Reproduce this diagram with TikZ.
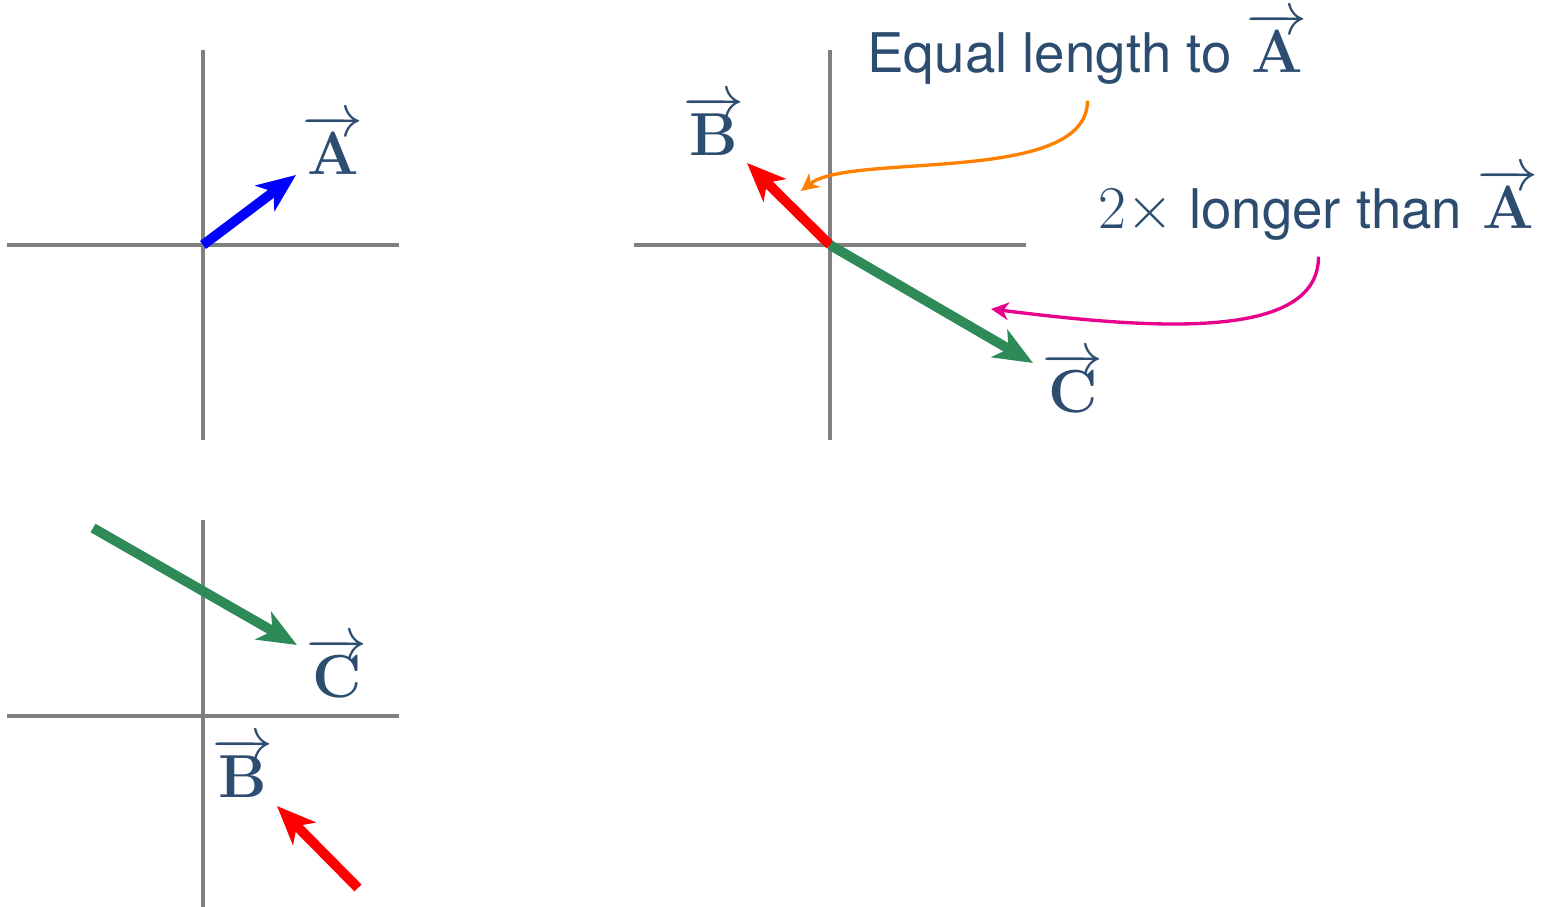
\documentclass[tikz,border=0pt]{standalone}
\usepackage[no-math]{fontspec}
\setmainfont[Scale=0.972]{TeX Gyre Heros}
\usepackage{tikz}
\usetikzlibrary{arrows.meta,positioning}
\usepackage{xcolor}
\definecolor{axiscolor}{RGB}{128,128,128}
\definecolor{labelcolor}{RGB}{44,77,112}
\definecolor{vecAcolor}{RGB}{0,0,255}
\definecolor{vecBcolor}{RGB}{255,0,0}
\definecolor{vecCcolor}{RGB}{46,139,87}
\definecolor{equalcolor}{RGB}{255,128,0}
\definecolor{doublecolor}{RGB}{232,0,140}

\begin{document}
\begin{tikzpicture}[
    every node/.style={font=\fontsize{16}{19}\selectfont, text=labelcolor},
    axisline/.style={draw=axiscolor, line width=1.1pt},
    vecarrow/.style={line width=2.8pt, -{Stealth[length=11pt, width=9pt, inset=3pt]}},
    notearrow/.style={line width=0.95pt, -{Stealth[length=5pt, width=5pt, inset=1.5pt]}},
    veclabel/.style={anchor=base, inner sep=0pt},
    note/.style={inner sep=4.3pt}
]
\useasboundingbox (0,0) rectangle (15.41,9.07);

% Axes: one centre per panel
\coordinate (o1) at (2.03,6.62);
\coordinate (o2) at (8.30,6.62);
\coordinate (o3) at (2.03,1.91);

\draw[axisline] ([xshift=-1.96cm]o1) -- ([xshift=1.96cm]o1);
\draw[axisline] ([yshift=-1.95cm]o1) -- ([yshift=1.95cm]o1);
\draw[axisline] ([xshift=-1.96cm]o2) -- ([xshift=1.96cm]o2);
\draw[axisline] ([yshift=-1.95cm]o2) -- ([yshift=1.95cm]o2);
\draw[axisline] ([xshift=-1.96cm]o3) -- ([xshift=1.96cm]o3);
\draw[axisline] ([yshift=-1.91cm]o3) -- ([yshift=1.96cm]o3);

% Panel 1: vector A
\coordinate (tipA) at (2.96,7.32);
\draw[vecarrow, vecAcolor] (o1) -- (tipA);
\node[veclabel] (labA) at (3.33,7.32) {$\overrightarrow{\mathbf{A}}$};

% Panel 2: B and C from the origin
\coordinate (tipB) at (7.47,7.44);
\coordinate (tipC) at (10.33,5.44);
\draw[vecarrow, vecBcolor] (o2) -- (tipB);
\draw[vecarrow, vecCcolor] (o2) -- (tipC);
\node[veclabel] (labB) at (7.14,7.51) {$\overrightarrow{\mathbf{B}}$};
\node[veclabel] (labC) at (10.73,4.94) {$\overrightarrow{\mathbf{C}}$};

% Notes with curved pointers
\node[note, anchor=base] (equalnote) at (10.875,8.34) {Equal length to $\overrightarrow{\mathbf{A}}$};
\node[note, anchor=base] (doublenote) at (13.185,6.78) {$2\times$ longer than $\overrightarrow{\mathbf{A}}$};
\coordinate (equaltip) at (8.01,7.16);
\coordinate (doubletip) at (9.91,5.98);
\draw[notearrow, equalcolor] (equalnote.south) .. controls +(0,-0.85) and (8.5,7.55) .. (equaltip);
\draw[notearrow, doublecolor] (doublenote.south) .. controls +(0,-0.85) and (11.5,5.78) .. (doubletip);

% Panel 3: C and B moved away from the origin
\coordinate (startC) at (0.93,3.79);
\coordinate (endC) at (2.97,2.62);
\coordinate (startB) at (3.58,0.19);
\coordinate (endB) at (2.77,1.01);
\draw[vecarrow, vecCcolor] (startC) -- (endC);
\draw[vecarrow, vecBcolor] (startB) -- (endB);
\node[veclabel] (labC2) at (3.37,2.09) {$\overrightarrow{\mathbf{C}}$};
\node[veclabel] (labB2) at (2.43,1.09) {$\overrightarrow{\mathbf{B}}$};

\end{tikzpicture}
\end{document}
